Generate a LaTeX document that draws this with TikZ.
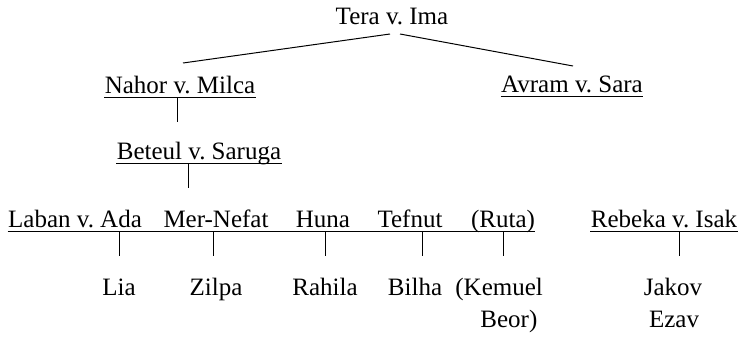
\documentclass[tikz,border=0pt]{standalone}
\usepackage{fontspec}
\setmainfont{Liberation Serif}
\frenchspacing

\begin{document}
\begin{tikzpicture}[x=0.5pt,y=-0.5pt,
  person/.style={anchor=base,inner sep=0pt,text height=9pt,text depth=2pt,
    font=\fontsize{12.5}{16}\selectfont},
  kin/.style={line width=0.5pt}]
\useasboundingbox (0,0) rectangle (743,337);
% parents
\node[person] (tera) at (392,25) {Tera v. Ima};
\node[person] (nahor) at (180,93) {Nahor v. Milca};
\node[person] (avram) at (572,92) {Avram v. Sara};
\node[person] (beteul) at (199,159) {Beteul v. Saruga};
% third row
\node[person] (laban) at (75,227) {Laban v. Ada};
\node[person] (mer) at (216,227) {Mer-Nefat};
\node[person] (huna) at (323,227) {Huna};
\node[person] (tefnut) at (410,227) {Tefnut};
\node[person] (ruta) at (503,227) {(Ruta)};
\node[person] (rebeka) at (664,227) {Rebeka v. Isak};
% children
\node[person] (lia) at (119,295) {Lia};
\node[person] (zilpa) at (216,295) {Zilpa};
\node[person] (rahila) at (325,295) {Rahila};
\node[person] (bilha) at (415,295) {Bilha};
\node[anchor=base west,inner sep=0pt,align=left,font=\fontsize{12.5}{16}\selectfont]
  (kemuel) at (455,327) {(Kemuel\\\hspace*{1em}Beor)};
\node[person] (jakov) at (673,295) {Jakov};
\node[person] (ezav) at (674,327) {Ezav};
% underlines
\draw[kin] (nahor.south west) -- (nahor.south east);
\draw[kin] (avram.south west) -- (avram.south east);
\draw[kin] (beteul.south west) -- (beteul.south east);
\draw[kin] (laban.south west) -- (ruta.south east);
\draw[kin] (rebeka.south west) -- (rebeka.south east);
% lines
\draw[kin] ([shift={(-2,9)}]tera.base) -- ([shift={(3,-30)}]nahor.base);
\draw[kin] ([shift={(8,9)}]tera.base) -- ([shift={(1,-26)}]avram.base);
\draw[kin,shorten >=9.5pt] ([xshift=-1.5pt]nahor.south) -- ([xshift=-1.5pt]nahor.south |- beteul.north);
\draw[kin,shorten >=10.5pt] ([xshift=-5.5pt]beteul.south) -- ([xshift=-5.5pt]beteul.south |- laban.north);
\draw[kin,shorten >=10.5pt] (lia.north |- laban.south) -- (lia.north);
\draw[kin,shorten >=10.5pt] ([xshift=-1.5pt]zilpa.north |- mer.south) -- ([xshift=-1.5pt]zilpa.north);
\draw[kin,shorten >=10.5pt] (rahila.north |- huna.south) -- (rahila.north);
\draw[kin,shorten >=10.5pt] ([xshift=3.5pt]bilha.north |- tefnut.south) -- ([xshift=3.5pt]bilha.north);
\draw[kin,shorten >=10.5pt] (ruta.south) -- (ruta.south |- lia.north);
\draw[kin,shorten >=10.5pt] ([xshift=3pt]jakov.north |- rebeka.south) -- ([xshift=3pt]jakov.north);
\end{tikzpicture}
\end{document}
